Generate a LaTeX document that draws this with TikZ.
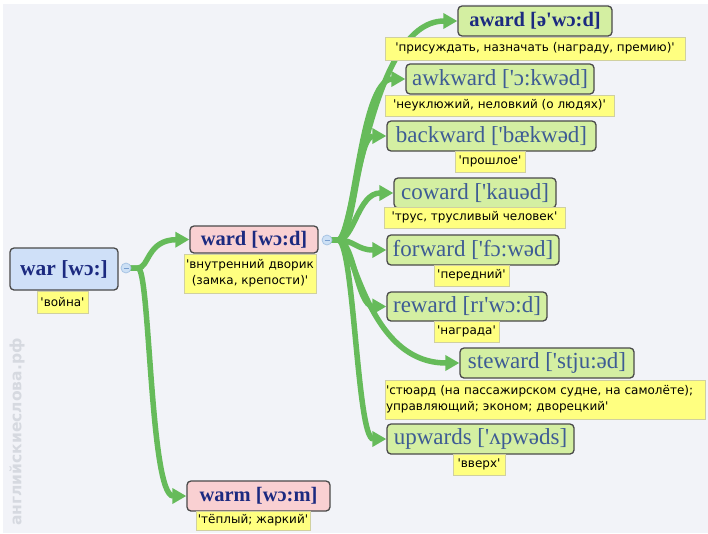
\documentclass[tikz,border=0pt]{standalone}
\usepackage{fontspec}
\setmainfont{Liberation Serif}[Ligatures=TeXOff]
\newfontfamily\lblfont{DejaVu Sans}[Ligatures=TeXOff]
\newfontfamily\wmfont{DejaVu Sans}[Ligatures=TeXOff]
\usetikzlibrary{arrows.meta}
\pgfdeclarelayer{backlayer}
\pgfdeclarelayer{linelayer}
\pgfsetlayers{backlayer,linelayer,main}
\definecolor{bg}{HTML}{F2F3F8}
\definecolor{boxline}{HTML}{4A4A4A}
\definecolor{navy}{HTML}{1C2A80}
\definecolor{steel}{HTML}{3E5C94}
\definecolor{bluefill}{HTML}{CFE0F8}
\definecolor{pinkfill}{HTML}{F9D0D2}
\definecolor{greenfill}{HTML}{D4EFA2}
\definecolor{lblfill}{HTML}{FFFF80}
\definecolor{lblline}{HTML}{D0D0A0}
\definecolor{lgreen}{HTML}{66BB5A}
\definecolor{knobfill}{HTML}{CDE0F5}
\definecolor{knobline}{HTML}{A8C4E4}
\definecolor{knobminus}{HTML}{7A9FD0}
\definecolor{wm}{HTML}{D6D9E0}
\tikzset{
  wbox/.style={draw=boxline, line width=1.3pt, rounded corners=4pt, inner sep=0pt, minimum height=30pt},
  boldw/.style={wbox, font=\bfseries\fontsize{20.5}{22}\selectfont, text=navy},
  regw/.style={wbox, font=\fontsize{23}{24}\selectfont, text=steel},
  bluen/.style={fill=bluefill},
  pinkn/.style={fill=pinkfill},
  greenn/.style={fill=greenfill},
  lbl/.style={fill=lblfill, draw=lblline, line width=0.6pt, inner sep=1.2pt, minimum height=21pt, font=\lblfont\fontsize{12}{16}\selectfont, text=black},
  conn/.style={draw=lgreen, line width=5.5pt, -{Triangle[length=14pt,width=15pt]}},
  knob/.style={circle, fill=knobfill, draw=knobline, line width=0.8pt, minimum size=10pt, inner sep=0pt}
}
\begin{document}
\begin{tikzpicture}[x=1pt,y=-1pt]
\useasboundingbox (0,0) rectangle (708,533);
\begin{pgfonlayer}{backlayer}
\fill[bg] (3,4) rectangle (708,533);
\end{pgfonlayer}
\node[rotate=90, text=wm, font=\wmfont\bfseries\fontsize{15.5}{15.5}\selectfont] (wmark) at (17,432) {английскиеслова.рф};

\coordinate (j1) at (138,268);
\coordinate (j2) at (338,240);
\coordinate (k1c) at (126,268);
\coordinate (k2c) at (327,240);

% word nodes
\node[boldw, bluen, minimum width=108pt, minimum height=42pt, font=\bfseries\fontsize{21.5}{22}\selectfont] (war) at (64,269) {war [wɔ:]};
\node[boldw, pinkn, minimum width=128pt, minimum height=27pt] (ward) at (254,239.5) {ward [wɔ:d]};
\node[boldw, pinkn, minimum width=143pt] (warm) at (258.5,496) {warm [wɔ:m]};
\node[boldw, greenn, minimum width=154pt] (award) at (535,21) {award [ə'wɔ:d]};
\node[regw, greenn, minimum width=188pt] (awkward) at (500,79) {awkward ['ɔ:kwəd]};
\node[regw, greenn, minimum width=209pt] (backward) at (491.5,136) {backward ['bækwəd]};
\node[regw, greenn, minimum width=162pt] (coward) at (475,193) {coward ['kauəd]};
\node[regw, greenn, minimum width=172pt] (forward) at (473,250) {forward ['fɔ:wəd]};
\node[regw, greenn, minimum width=160pt, minimum height=29pt] (reward) at (467,306.5) {reward [rɪ'wɔ:d]};
\node[regw, greenn, minimum width=174pt] (steward) at (547,363) {steward ['stju:əd]};
\node[regw, greenn, minimum width=187pt] (upwards) at (480.5,439) {upwards ['ʌpwəds]};

% labels
\node[lbl, minimum width=51pt, minimum height=22pt] (lwar) at (62.5,302) {'война'};
\node[lbl, minimum width=132pt, minimum height=39pt, align=center] (lward) at (250,273.5) {'внутренний дворик\\(замка, крепости)'};
\node[lbl, minimum width=114pt, minimum height=19pt] (lwarm) at (253,520.5) {'тёплый; жаркий'};
\node[lbl, minimum width=300pt, minimum height=23pt] (laward) at (535,48.5) {'присуждать, назначать (награду, премию)'};
\node[lbl, minimum width=229pt] (lawkward) at (499.5,105.5) {'неуклюжий, неловкий (о людях)'};
\node[lbl, minimum width=70pt] (lbackward) at (490,161.5) {'прошлое'};
\node[lbl, minimum width=181pt] (lcoward) at (474.5,217.5) {'трус, трусливый человек'};
\node[lbl, minimum width=75pt] (lforward) at (471.5,275.5) {'передний'};
\node[lbl, minimum width=65pt] (lreward) at (466.5,331.5) {'награда'};
\node[lbl, text width=318pt, minimum height=39pt, align=left] (lsteward) at (545,399.5) {'стюард (на пассажирском судне, на самолёте);\\управляющий; эконом; дворецкий'};
\node[lbl, minimum width=52pt] (lupwards) at (479,464.5) {'вверх'};

% connectors (below the nodes)
\begin{pgfonlayer}{linelayer}
\draw[conn] (k1c) -- (j1) .. controls (149,268) and (147,240) .. (ward.west);
\draw[conn] (k1c) -- (j1) .. controls (150,268) and (150,496) .. (warm.west);
\draw[conn] (k2c) -- (j2) .. controls (354,240) and (368,21) .. (award.west);
\draw[conn] (k2c) -- (j2) .. controls (354,240) and (360,79) .. (awkward.west);
\draw[conn] (k2c) -- (j2) .. controls (354,240) and (357,136) .. (backward.west);
\draw[conn] (k2c) -- (j2) .. controls (354,240) and (358,193) .. (coward.west);
\draw[conn] (k2c) -- (j2) .. controls (354,240) and (357,250) .. (forward.west);
\draw[conn] (k2c) -- (j2) .. controls (354,240) and (357,306.5) .. (reward.west);
\draw[conn] (k2c) -- (j2) .. controls (354,240) and (366,363) .. (steward.west);
\draw[conn] (k2c) -- (j2) .. controls (354,240) and (357,439) .. (upwards.west);
\end{pgfonlayer}

% collapse knobs
\node[knob] (k1) at (k1c) {};
\node[knob] (k2) at (k2c) {};
\draw[knobminus, line width=0.8pt] ([xshift=-2.5pt]k1.center) -- ([xshift=2.5pt]k1.center);
\draw[knobminus, line width=0.8pt] ([xshift=-2.5pt]k2.center) -- ([xshift=2.5pt]k2.center);
\end{tikzpicture}
\end{document}
